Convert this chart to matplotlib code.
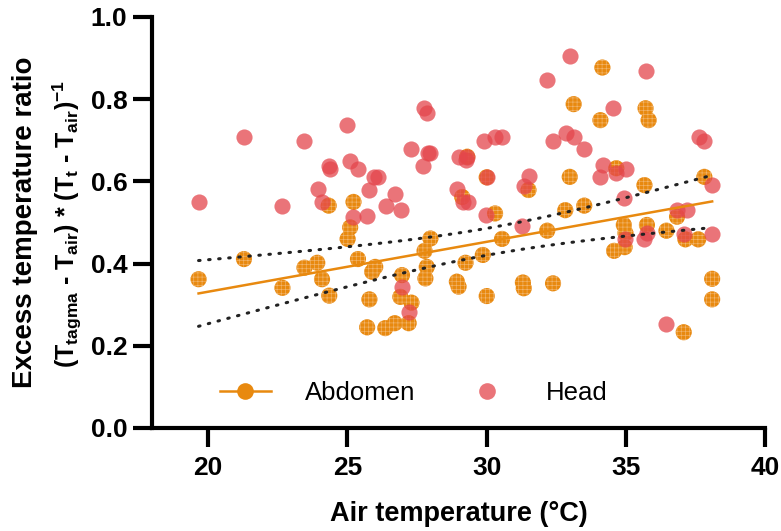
import numpy as np
import matplotlib
matplotlib.use('Agg')
import matplotlib.pyplot as plt
from matplotlib.lines import Line2D

plt.rcParams['font.family'] = ['Liberation Sans', 'DejaVu Sans']
plt.rcParams['mathtext.fontset'] = 'custom'
plt.rcParams['mathtext.rm'] = 'Liberation Sans'
plt.rcParams['mathtext.bf'] = 'Liberation Sans:bold'
plt.rcParams['hatch.linewidth'] = 0.45

# Head: air temperature and excess temperature ratio
head_x = [19.68, 21.29, 22.67, 23.46, 23.93, 24.09, 24.33, 24.36, 25.00, 25.10,
          25.22, 25.38, 25.79, 25.70, 25.94, 26.10, 26.38, 26.70, 26.92, 26.96,
          27.20, 27.30, 27.73, 27.74, 27.86, 27.90, 27.98, 28.93, 28.99, 29.14,
          29.33, 29.24, 29.29, 29.89, 30.00, 29.96, 30.28, 30.55, 31.27, 31.33,
          31.50, 32.17, 32.39, 32.86, 32.98, 33.12, 33.50, 34.08, 34.16, 34.53,
          34.65, 34.92, 34.95, 35.00, 35.63, 35.70, 35.75, 36.45, 36.83, 37.07,
          37.17, 37.61, 37.81, 38.09, 38.09]
head_y = [0.551, 0.709, 0.541, 0.699, 0.581, 0.551, 0.637, 0.629, 0.738, 0.650,
          0.514, 0.629, 0.579, 0.516, 0.610, 0.610, 0.541, 0.569, 0.530, 0.342,
          0.283, 0.679, 0.638, 0.778, 0.767, 0.668, 0.668, 0.581, 0.660, 0.551,
          0.551, 0.652, 0.660, 0.699, 0.610, 0.518, 0.709, 0.709, 0.491, 0.589,
          0.612, 0.847, 0.699, 0.718, 0.906, 0.709, 0.679, 0.610, 0.640, 0.778,
          0.620, 0.560, 0.459, 0.630, 0.459, 0.868, 0.475, 0.253, 0.530, 0.472,
          0.530, 0.709, 0.699, 0.590, 0.472]

# Abdomen
abd_x = [19.66, 21.29, 22.67, 23.46, 23.92, 24.09, 24.33, 24.35, 25.01, 25.10,
         25.22, 25.38, 25.79, 25.71, 25.89, 26.00, 26.36, 26.70, 26.90, 26.96,
         27.20, 27.30, 27.77, 27.80, 27.85, 27.98, 28.93, 28.99, 29.12, 29.24,
         29.30, 29.86, 30.00, 30.00, 30.30, 30.55, 31.30, 31.33, 31.50, 32.17,
         32.38, 32.82, 32.98, 33.12, 33.50, 34.08, 34.15, 34.57, 34.65, 34.92,
         34.95, 34.98, 35.66, 35.70, 35.75, 35.81, 36.45, 36.83, 37.07, 37.13,
         37.59, 37.81, 38.09, 38.09]
abd_y = [0.362, 0.411, 0.341, 0.390, 0.402, 0.362, 0.541, 0.322, 0.460, 0.488,
         0.550, 0.411, 0.313, 0.245, 0.380, 0.392, 0.243, 0.255, 0.319, 0.372,
         0.255, 0.305, 0.431, 0.364, 0.392, 0.461, 0.356, 0.344, 0.562, 0.402,
         0.660, 0.421, 0.610, 0.321, 0.522, 0.460, 0.354, 0.340, 0.579, 0.480,
         0.352, 0.530, 0.611, 0.788, 0.541, 0.749, 0.877, 0.431, 0.632, 0.494,
         0.440, 0.474, 0.591, 0.778, 0.494, 0.749, 0.480, 0.514, 0.233, 0.459,
         0.459, 0.611, 0.363, 0.313]

x_ticks = [20, 25, 30, 35, 40]
y_ticks = [0.0, 0.2, 0.4, 0.6, 0.8, 1.0]

ORANGE = '#E8890F'
RED = '#E4464C'


def main():
    ax_x = np.array(abd_x)
    ax_y = np.array(abd_y)

    # Linear fit with 95% confidence band for abdomen
    n = len(ax_x)
    slope, intercept = np.polyfit(ax_x, ax_y, 1)
    resid = ax_y - (slope * ax_x + intercept)
    s = np.sqrt(np.sum(resid ** 2) / (n - 2))
    sxx = np.sum((ax_x - ax_x.mean()) ** 2)
    xf = np.linspace(ax_x.min(), ax_x.max(), 100)
    yf = slope * xf + intercept
    se = s * np.sqrt(1 / n + (xf - ax_x.mean()) ** 2 / sxx)
    t = 2.0

    fig = plt.figure(figsize=(7.81, 5.31), dpi=100)
    ax = fig.add_axes([0.195, 0.194, 0.785, 0.774])

    ax.scatter(abd_x, abd_y, s=135, color=ORANGE, edgecolor='#F2B56C',
               linewidth=0, hatch='++++', zorder=2)
    ax.scatter(head_x, head_y, s=135, color=RED, alpha=0.75, linewidth=0,
               zorder=3)
    ax.plot(xf, yf, color=ORANGE, lw=1.8, zorder=4)
    ax.plot(xf, yf + t * se, color='#222222', lw=2.2, ls=(0, (0.5, 2.8)),
            dash_capstyle='round', zorder=4)
    ax.plot(xf, yf - t * se, color='#222222', lw=2.2, ls=(0, (0.5, 2.8)),
            dash_capstyle='round', zorder=4)

    ax.set_xlim(18, 40)
    ax.set_ylim(0, 1.0)
    ax.set_xticks(x_ticks)
    ax.set_yticks(y_ticks)
    ax.set_yticklabels([f'{v:.1f}' for v in y_ticks])
    for side in ['top', 'right']:
        ax.spines[side].set_visible(False)
    for side in ['left', 'bottom']:
        ax.spines[side].set_linewidth(3)
    ax.tick_params(width=3, length=14, labelsize=19)
    ax.tick_params(axis='y', pad=4)
    ax.tick_params(axis='x', pad=6)
    for lab in ax.get_xticklabels() + ax.get_yticklabels():
        lab.set_fontweight('bold')

    ax.set_xlabel('Air temperature (°C)', fontsize=19.5, fontweight='bold',
                  labelpad=15)
    fig.text(0.032, 0.582, 'Excess temperature ratio', rotation=90,
             fontsize=20, fontweight='bold', ha='center', va='center')
    fig.text(0.087, 0.578,
             r'(T$_{\mathbf{tagma}}$ - T$_{\mathbf{air}}$) * '
             r'(T$_{\mathbf{t}}$ - T$_{\mathbf{air}}$)$^{\mathbf{-1}}$',
             rotation=90, fontsize=18, fontweight='bold', ha='center',
             va='center')

    handles = [
        Line2D([], [], color=ORANGE, lw=1.8, marker='o', markersize=12,
               markeredgewidth=0),
        Line2D([], [], color=RED, alpha=0.75, lw=0, marker='o', markersize=12,
               markeredgewidth=0),
    ]
    ax.legend(handles, ['Abdomen', 'Head'], loc='center left',
              bbox_to_anchor=(0.11, 0.085), ncol=2, frameon=False,
              fontsize=18.5, handlelength=2.0, columnspacing=1.8,
              handletextpad=1.3, borderpad=0, borderaxespad=0)

    plt.savefig('out.png')
    plt.close()


if __name__ == '__main__':
    main()
